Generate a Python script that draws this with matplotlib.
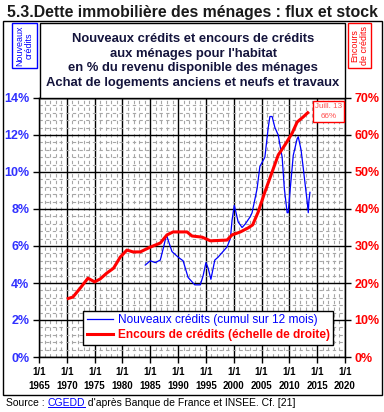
import matplotlib.pyplot as plt
from matplotlib.patches import Rectangle
from matplotlib.ticker import MultipleLocator

plt.rcParams['font.family'] = ['Liberation Sans', 'DejaVu Sans']

# Encours de crédits, % du revenu disponible (échelle de droite)
years_stock = [1970.0, 1971.1, 1972.4, 1973.8, 1975.0, 1976.0, 1977.2, 1978.4,
               1979.6, 1980.8, 1981.9, 1983.2, 1985.0, 1986.8, 1988.0, 1989.1,
               1991.6, 1992.5, 1994.3, 1995.8, 1998.8, 1999.7, 2001.2, 2002.6,
               2003.4, 2004.4, 2005.6, 2006.9, 2008.0, 2009.2, 2010.5, 2011.4,
               2012.5, 2013.5]
stock = [15.7, 16.2, 18.6, 21.3, 20.3, 21.1, 22.7, 24.0,
         27.0, 28.9, 28.4, 28.4, 29.7, 30.8, 33.0, 33.8,
         33.8, 32.7, 32.4, 31.4, 31.6, 33.0, 33.8, 34.9,
         35.7, 39.2, 44.6, 50.0, 54.6, 57.3, 60.5, 63.5,
         64.9, 66.3]

# Nouveaux crédits (cumul sur 12 mois), % du revenu disponible
years_flow = [1984.1, 1985.0, 1985.9, 1986.8, 1987.4, 1987.9, 1988.9, 1990.0,
              1990.9, 1991.8, 1993.0, 1994.0, 1994.5, 1995.0, 1995.4, 1995.9,
              1996.6, 1997.2, 1998.8, 1999.4, 1999.7, 2000.1, 2000.8, 2001.5,
              2002.1, 2003.0, 2003.3, 2004.2, 2004.7, 2005.6, 2006.2, 2006.5,
              2006.9, 2007.4, 2008.0, 2008.7, 2009.1, 2009.6, 2009.8, 2010.1,
              2010.7, 2011.4, 2011.6, 2012.1, 2012.5, 2013.2, 2013.4, 2013.5,
              2013.7]
flow = [4.97, 5.2, 5.1, 5.24, 5.95, 6.6, 5.7, 5.4,
        5.2, 4.3, 3.9, 3.9, 4.4, 5.1, 4.8, 4.2,
        5.24, 5.4, 5.95, 6.4, 7.4, 8.2, 7.3, 7.0,
        7.2, 7.6, 7.8, 9.1, 10.3, 10.8, 12.4, 13.0,
        13.0, 12.4, 12.0, 10.8, 9.1, 7.8, 7.8, 8.9,
        10.9, 11.8, 11.9, 11.2, 10.2, 8.4, 7.8, 8.4,
        8.9]

W, H = 384, 412
fig = plt.figure(figsize=(W / 100, H / 100), dpi=100)


def px(x0, y0, x1, y1):
    return [x0 / W, 1 - y1 / H, (x1 - x0) / W, (y1 - y0) / H]


ax = fig.add_axes(px(39, 98, 345, 357))
ax.set_xlim(1965, 2020)
ax.set_ylim(0, 14)
ax.xaxis.set_major_locator(MultipleLocator(5))
ax.xaxis.set_minor_locator(MultipleLocator(1))
ax.yaxis.set_major_locator(MultipleLocator(2))
ax.yaxis.set_minor_locator(MultipleLocator(0.4))
ax.grid(which='minor', color='#a6a6a6', linestyle=(0, (3, 3)), linewidth=0.8)
ax.grid(which='major', color='black', linestyle='-', linewidth=1.0)
ax.set_axisbelow(True)
for s in ax.spines.values():
    s.set_linewidth(1.0)

ax.set_yticks(range(0, 15, 2))
ax.set_yticklabels([f'{v}%' for v in range(0, 15, 2)], color='#3030ff',
                   fontsize=9, fontweight='bold')
ax.set_xticks(range(1965, 2021, 5))
ax.set_xticklabels([f'1/1\n{y}' for y in range(1965, 2021, 5)],
                   fontsize=7, fontweight='bold', linespacing=1.5)
ax.tick_params(which='minor', length=0)
ax.tick_params(which='major', length=4, width=1, direction='out', pad=3)

ax.plot(years_flow, flow, color='#0000ff', linewidth=0.9, zorder=3)

ax2 = ax.twinx()
ax2.set_ylim(0, 70)
ax2.set_yticks(range(0, 71, 10))
ax2.set_yticklabels([f'{v}%' for v in range(0, 71, 10)], color='#ff0000',
                    fontsize=9, fontweight='bold')
ax2.tick_params(length=4, width=1, direction='out', pad=3)
ax2.plot(years_stock, stock, color='#ff0000', linewidth=2.2, zorder=4,
         solid_capstyle='butt')

# legend
l_blue, = ax.plot([], [], color='#0000ff', linewidth=0.9)
l_red, = ax.plot([], [], color='#ff0000', linewidth=2.2)
leg = ax2.legend([l_blue, l_red],
                 ['Nouveaux crédits (cumul sur 12 mois)',
                  'Encours de crédits (échelle de droite)'],
                 loc='lower left', bbox_to_anchor=((83 - 39) / 306, (357 - 345) / 259),
                 frameon=True, fancybox=False, edgecolor='black', framealpha=1,
                 fontsize=8.6, handlelength=2.2, handletextpad=0.4,
                 borderpad=0.3, labelspacing=0.25, borderaxespad=0)
leg.get_frame().set_linewidth(1.0)
leg.get_texts()[0].set_color('#0000ff')
leg.get_texts()[1].set_color('#ff0000')
leg.get_texts()[1].set_fontweight('bold')

# annotation Juill. 13
ax2.text(2017.0, 66.3, 'Juill. 13\n66%', ha='center', va='center', fontsize=5.8,
         color='#ff5050', linespacing=1.55, zorder=7,
         bbox=dict(boxstyle='square,pad=0.25', facecolor='white',
                   edgecolor='#ff0000', linewidth=1))

# frames and boxes
fig.patches.append(Rectangle((3 / W, 1 - 395 / H), 379 / W, 374 / H,
                             transform=fig.transFigure, fill=False,
                             edgecolor='black', linewidth=1))
fig.patches.append(Rectangle((40 / W, 1 - 98 / H), 305 / W, 75 / H,
                             transform=fig.transFigure, facecolor='white',
                             edgecolor='black', linewidth=1, zorder=5))
fig.patches.append(Rectangle((12 / W, 1 - 68 / H), 25 / W, 45 / H,
                             transform=fig.transFigure, facecolor='white',
                             edgecolor='#0000ff', linewidth=1))
fig.patches.append(Rectangle((348 / W, 1 - 68 / H), 23 / W, 45 / H,
                             transform=fig.transFigure, facecolor='white',
                             edgecolor='#ff0000', linewidth=1))

fig.text(24.5 / W, 1 - 45.5 / H, 'Nouveaux\ncrédits', rotation=90, ha='center',
         va='center', fontsize=6.4, color='#0000ff', linespacing=1.1)
fig.text(359.5 / W, 1 - 45.5 / H, 'Encours\nde crédits', rotation=90, ha='center',
         va='center', fontsize=6.4, color='#ff0000', linespacing=1.1)

fig.text(192 / W, 1 - 12 / H, '5.3.Dette immobilière des ménages : flux et stock',
         ha='center', va='center', fontsize=11.4, fontweight='bold', color='#1a1a1a')

fig.text(193 / W, 1 - 61 / H,
         "Nouveaux crédits et encours de crédits\naux ménages pour l'habitat\n"
         "en % du revenu disponible des ménages\nAchat de logements anciens et neufs et travaux",
         ha='center', va='center', fontsize=9.4, fontweight='bold', color='#14143c',
         linespacing=1.32, zorder=6)

# source line with underlined link
t1 = fig.text(6 / W, 1 - 403 / H, 'Source : ', ha='left', va='center', fontsize=7.5)
fig.canvas.draw()
r = fig.canvas.get_renderer()
bb = t1.get_window_extent(r)
t2 = fig.text(bb.x1 / W, 1 - 403 / H, 'CGEDD', ha='left', va='center',
              fontsize=7.5, color='#0000ff')
bb2 = t2.get_window_extent(r)
fig.add_artist(plt.Line2D([bb2.x0 / W, bb2.x1 / W], [(bb2.y0 + 1) / H] * 2,
                          transform=fig.transFigure, color='#0000ff', linewidth=0.7))
fig.text(bb2.x1 / W, 1 - 403 / H, " d'après Banque de France et INSEE. Cf. [21]",
         ha='left', va='center', fontsize=7.5)

fig.savefig('out.png', dpi=100)
